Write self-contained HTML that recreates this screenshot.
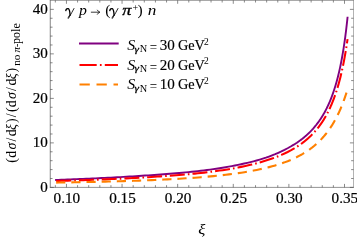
<!DOCTYPE html>
<html><head><meta charset="utf-8"><style>
html,body{margin:0;padding:0;background:#fff;}
body{width:357px;height:240px;overflow:hidden;}
svg{display:block;will-change:transform;}
text{font-family:"Liberation Serif",serif;fill:#000;}
.i{font-style:italic;}
</style></head><body>
<svg width="357" height="240" viewBox="0 0 357 240">
<rect width="357" height="240" fill="#fff"/>
<g fill="none" stroke-linejoin="round">
<path d="M55.10,180.02 L58.20,179.90 L61.30,179.78 L64.40,179.66 L67.50,179.54 L70.60,179.41 L73.70,179.29 L76.80,179.16 L79.90,179.03 L83.00,178.90 L86.10,178.76 L89.20,178.62 L92.30,178.48 L95.40,178.34 L98.50,178.19 L101.60,178.04 L104.70,177.89 L107.80,177.74 L110.90,177.58 L114.00,177.41 L117.10,177.25 L120.20,177.08 L123.30,176.90 L126.40,176.72 L129.50,176.54 L132.60,176.35 L135.70,176.16 L138.80,175.97 L141.90,175.77 L145.00,175.56 L148.10,175.36 L151.20,175.14 L154.30,174.93 L157.40,174.70 L160.50,174.48 L163.60,174.24 L166.70,174.00 L169.80,173.76 L172.90,173.51 L176.00,173.25 L179.10,172.98 L182.20,172.70 L185.30,172.42 L188.40,172.12 L191.50,171.81 L194.60,171.48 L197.70,171.14 L200.80,170.78 L203.90,170.41 L207.00,170.02 L210.10,169.60 L213.20,169.17 L216.30,168.71 L219.40,168.23 L222.50,167.73 L225.60,167.20 L228.70,166.65 L231.80,166.07 L234.90,165.47 L238.00,164.85 L241.10,164.20 L244.20,163.53 L247.30,162.83 L250.40,162.10 L253.50,161.33 L256.60,160.51 L259.70,159.62 L262.80,158.67 L265.90,157.65 L269.00,156.54 L272.10,155.36 L275.20,154.11 L278.30,152.77 L281.40,151.36 L284.50,149.85 L287.60,148.25 L290.70,146.53 L293.80,144.69 L296.90,142.69 L300.00,140.51 L300.40,140.22 L300.80,139.92 L301.20,139.62 L301.60,139.31 L302.00,139.01 L302.40,138.69 L302.80,138.38 L303.20,138.06 L303.60,137.73 L304.00,137.40 L304.40,137.07 L304.80,136.74 L305.20,136.40 L305.60,136.05 L306.00,135.70 L306.40,135.35 L306.80,134.99 L307.20,134.63 L307.60,134.26 L308.00,133.89 L308.40,133.51 L308.80,133.13 L309.20,132.74 L309.60,132.34 L310.00,131.95 L310.40,131.54 L310.80,131.13 L311.20,130.72 L311.60,130.29 L312.00,129.87 L312.40,129.43 L312.80,128.99 L313.20,128.55 L313.60,128.09 L314.00,127.63 L314.40,127.17 L314.80,126.69 L315.20,126.21 L315.60,125.72 L316.00,125.23 L316.40,124.72 L316.80,124.21 L317.20,123.69 L317.60,123.16 L318.00,122.63 L318.40,122.08 L318.80,121.52 L319.20,120.96 L319.60,120.39 L320.00,119.80 L320.40,119.21 L320.80,118.61 L321.20,117.99 L321.60,117.37 L322.00,116.73 L322.40,116.08 L322.80,115.42 L323.20,114.75 L323.60,114.07 L324.00,113.37 L324.40,112.66 L324.80,111.93 L325.20,111.20 L325.60,110.44 L326.00,109.68 L326.40,108.89 L326.80,108.09 L327.20,107.28 L327.60,106.45 L328.00,105.60 L328.40,104.73 L328.80,103.85 L329.20,102.94 L329.60,102.02 L330.00,101.07 L330.40,100.10 L330.80,99.11 L331.20,98.10 L331.60,97.07 L332.00,96.01 L332.40,94.92 L332.80,93.81 L333.20,92.67 L333.60,91.51 L334.00,90.31 L334.40,89.08 L334.80,87.82 L335.20,86.53 L335.60,85.20 L336.00,83.84 L336.40,82.44 L336.80,81.00 L337.20,79.52 L337.60,77.99 L338.00,76.42 L338.40,74.81 L338.80,73.14 L339.20,71.43 L339.60,69.66 L340.00,67.83 L340.40,65.94 L340.80,63.99 L341.20,61.97 L341.60,59.89 L342.00,57.73 L342.40,55.49 L342.80,53.18 L343.20,50.77 L343.60,48.28 L344.00,45.68 L344.40,42.99 L344.80,40.18 L345.20,37.26 L345.60,34.21 L346.00,31.03 L346.40,27.70 L346.80,24.23 L347.20,20.59 L347.60,16.77" stroke="#800080" stroke-width="1.9"/>
<path d="M55.40,181.01 L58.50,180.93 L61.59,180.84 L64.69,180.75 L67.78,180.66 L70.88,180.57 L73.98,180.47 L77.07,180.38 L80.17,180.27 L83.27,180.17 L86.36,180.06 L89.46,179.95 L92.55,179.84 L95.65,179.73 L98.75,179.61 L101.84,179.48 L104.94,179.36 L108.04,179.23 L111.13,179.10 L114.23,178.96 L117.32,178.82 L120.42,178.68 L123.52,178.53 L126.61,178.38 L129.71,178.22 L132.81,178.06 L135.90,177.89 L139.00,177.72 L142.09,177.55 L145.19,177.37 L148.29,177.18 L151.38,176.99 L154.48,176.80 L157.57,176.60 L160.67,176.39 L163.77,176.18 L166.86,175.96 L169.96,175.73 L173.06,175.50 L176.15,175.26 L179.25,175.01 L182.34,174.75 L185.44,174.48 L188.54,174.20 L191.63,173.91 L194.73,173.61 L197.83,173.29 L200.92,172.96 L204.02,172.61 L207.11,172.25 L210.21,171.87 L213.31,171.47 L216.40,171.05 L219.50,170.61 L222.59,170.15 L225.69,169.67 L228.79,169.16 L231.88,168.63 L234.98,168.07 L238.08,167.48 L241.17,166.87 L244.27,166.22 L247.36,165.54 L250.46,164.82 L253.56,164.07 L256.65,163.27 L259.75,162.43 L262.85,161.54 L265.94,160.60 L269.04,159.60 L272.13,158.53 L275.23,157.40 L278.33,156.19 L281.42,154.90 L284.52,153.51 L287.62,152.02 L290.71,150.41 L293.81,148.67 L296.90,146.78 L300.00,144.72 L300.40,144.44 L300.80,144.15 L301.20,143.87 L301.60,143.58 L302.00,143.29 L302.40,142.99 L302.80,142.69 L303.20,142.39 L303.60,142.08 L304.00,141.77 L304.40,141.45 L304.79,141.13 L305.19,140.81 L305.59,140.48 L305.99,140.15 L306.39,139.82 L306.79,139.48 L307.19,139.13 L307.59,138.78 L307.99,138.43 L308.39,138.07 L308.79,137.71 L309.19,137.34 L309.59,136.97 L309.99,136.60 L310.39,136.21 L310.79,135.83 L311.19,135.43 L311.59,135.04 L311.99,134.63 L312.39,134.22 L312.79,133.81 L313.19,133.39 L313.59,132.96 L313.99,132.52 L314.38,132.08 L314.78,131.64 L315.18,131.19 L315.58,130.73 L315.98,130.26 L316.38,129.79 L316.78,129.31 L317.18,128.82 L317.58,128.32 L317.98,127.82 L318.38,127.31 L318.78,126.79 L319.18,126.26 L319.58,125.72 L319.98,125.18 L320.38,124.63 L320.78,124.06 L321.18,123.49 L321.58,122.91 L321.98,122.32 L322.38,121.71 L322.78,121.10 L323.18,120.48 L323.58,119.85 L323.97,119.20 L324.37,118.54 L324.77,117.88 L325.17,117.20 L325.57,116.50 L325.97,115.80 L326.37,115.08 L326.77,114.35 L327.17,113.60 L327.57,112.84 L327.97,112.07 L328.37,111.28 L328.77,110.47 L329.17,109.65 L329.57,108.81 L329.97,107.95 L330.37,107.08 L330.77,106.19 L331.17,105.28 L331.57,104.35 L331.97,103.40 L332.37,102.43 L332.77,101.44 L333.17,100.43 L333.56,99.39 L333.96,98.33 L334.36,97.25 L334.76,96.14 L335.16,95.00 L335.56,93.84 L335.96,92.65 L336.36,91.44 L336.76,90.19 L337.16,88.91 L337.56,87.60 L337.96,86.25 L338.36,84.87 L338.76,83.45 L339.16,82.00 L339.56,80.51 L339.96,78.97 L340.36,77.40 L340.76,75.78 L341.16,74.11 L341.56,72.39 L341.96,70.63 L342.36,68.81 L342.76,66.94 L343.15,65.01 L343.55,63.02 L343.95,60.96 L344.35,58.84 L344.75,56.65 L345.15,54.39 L345.55,52.05 L345.95,49.64 L346.35,47.13 L346.75,44.54 L347.15,41.85 L347.55,39.06" stroke="#ff0000" stroke-width="2.05" stroke-dasharray="15 3.075 1.6 3.075" stroke-dashoffset="21.95"/>
<path d="M55.90,182.58 L58.99,182.53 L62.08,182.48 L65.17,182.44 L68.26,182.39 L71.35,182.33 L74.44,182.28 L77.53,182.22 L80.62,182.17 L83.71,182.11 L86.80,182.05 L89.89,181.98 L92.98,181.92 L96.07,181.85 L99.16,181.78 L102.25,181.71 L105.34,181.63 L108.43,181.56 L111.52,181.47 L114.61,181.39 L117.70,181.31 L120.79,181.22 L123.88,181.12 L126.97,181.03 L130.06,180.93 L133.15,180.82 L136.24,180.72 L139.33,180.61 L142.42,180.49 L145.51,180.37 L148.60,180.25 L151.69,180.12 L154.78,179.99 L157.87,179.85 L160.96,179.70 L164.05,179.56 L167.14,179.40 L170.23,179.24 L173.32,179.07 L176.41,178.89 L179.49,178.71 L182.58,178.52 L185.67,178.32 L188.76,178.12 L191.85,177.90 L194.94,177.68 L198.03,177.44 L201.12,177.20 L204.21,176.94 L207.30,176.67 L210.39,176.39 L213.48,176.10 L216.57,175.79 L219.66,175.47 L222.75,175.13 L225.84,174.77 L228.93,174.40 L232.02,174.01 L235.11,173.59 L238.20,173.16 L241.29,172.70 L244.38,172.21 L247.47,171.70 L250.56,171.16 L253.65,170.58 L256.74,169.98 L259.83,169.33 L262.92,168.64 L266.01,167.91 L269.10,167.14 L272.19,166.31 L275.28,165.42 L278.37,164.47 L281.46,163.45 L284.55,162.36 L287.64,161.18 L290.73,159.91 L293.82,158.54 L296.91,157.05 L300.00,155.43 L300.39,155.22 L300.78,155.00 L301.17,154.79 L301.56,154.56 L301.95,154.34 L302.34,154.11 L302.74,153.89 L303.13,153.65 L303.52,153.42 L303.91,153.18 L304.30,152.95 L304.69,152.70 L305.08,152.46 L305.47,152.21 L305.86,151.96 L306.25,151.71 L306.64,151.45 L307.03,151.19 L307.42,150.93 L307.82,150.67 L308.21,150.40 L308.60,150.13 L308.99,149.85 L309.38,149.57 L309.77,149.29 L310.16,149.01 L310.55,148.72 L310.94,148.43 L311.33,148.13 L311.72,147.84 L312.11,147.53 L312.50,147.23 L312.89,146.92 L313.29,146.60 L313.68,146.29 L314.07,145.96 L314.46,145.64 L314.85,145.31 L315.24,144.97 L315.63,144.63 L316.02,144.29 L316.41,143.94 L316.80,143.59 L317.19,143.24 L317.58,142.87 L317.97,142.51 L318.37,142.14 L318.76,141.76 L319.15,141.38 L319.54,140.99 L319.93,140.60 L320.32,140.21 L320.71,139.80 L321.10,139.40 L321.49,138.98 L321.88,138.56 L322.27,138.14 L322.66,137.71 L323.05,137.27 L323.45,136.83 L323.84,136.38 L324.23,135.92 L324.62,135.46 L325.01,134.99 L325.40,134.51 L325.79,134.03 L326.18,133.54 L326.57,133.04 L326.96,132.53 L327.35,132.02 L327.74,131.50 L328.13,130.97 L328.53,130.43 L328.92,129.89 L329.31,129.34 L329.70,128.77 L330.09,128.20 L330.48,127.62 L330.87,127.03 L331.26,126.43 L331.65,125.82 L332.04,125.20 L332.43,124.58 L332.82,123.94 L333.21,123.29 L333.61,122.63 L334.00,121.96 L334.39,121.27 L334.78,120.58 L335.17,119.87 L335.56,119.15 L335.95,118.42 L336.34,117.68 L336.73,116.92 L337.12,116.15 L337.51,115.37 L337.90,114.57 L338.29,113.76 L338.68,112.93 L339.08,112.09 L339.47,111.23 L339.86,110.36 L340.25,109.47 L340.64,108.56 L341.03,107.64 L341.42,106.70 L341.81,105.74 L342.20,104.76 L342.59,103.76 L342.98,102.75 L343.37,101.71 L343.76,100.65 L344.16,99.57 L344.55,98.47 L344.94,97.35 L345.33,96.20 L345.72,95.03 L346.11,93.84 L346.50,92.62" stroke="#ff8000" stroke-width="2.1" stroke-dasharray="9.2 5.965" stroke-dashoffset="-0.25"/>
</g>
<g stroke="#666" fill="none">
<line x1="50.25" y1="0" x2="50.25" y2="187.70000000000002" stroke-width="0.8"/>
<line x1="353.5" y1="0" x2="353.5" y2="187.70000000000002" stroke-width="0.5"/>
<line x1="49.900000000000006" y1="0.3" x2="353.75" y2="0.3" stroke-width="0.7"/>
<line x1="49.900000000000006" y1="187.4" x2="353.75" y2="187.4" stroke-width="0.7"/>
</g>
<g stroke="#4a4a4a" stroke-width="0.65" fill="none">
<line x1="55.33" y1="187.4" x2="55.33" y2="185.20000000000002"/><line x1="55.33" y1="0.3" x2="55.33" y2="2.5"/><line x1="66.45" y1="187.4" x2="66.45" y2="183.9"/><line x1="66.45" y1="0.3" x2="66.45" y2="3.8"/><line x1="77.57" y1="187.4" x2="77.57" y2="185.20000000000002"/><line x1="77.57" y1="0.3" x2="77.57" y2="2.5"/><line x1="88.69" y1="187.4" x2="88.69" y2="185.20000000000002"/><line x1="88.69" y1="0.3" x2="88.69" y2="2.5"/><line x1="99.82" y1="187.4" x2="99.82" y2="185.20000000000002"/><line x1="99.82" y1="0.3" x2="99.82" y2="2.5"/><line x1="110.94" y1="187.4" x2="110.94" y2="185.20000000000002"/><line x1="110.94" y1="0.3" x2="110.94" y2="2.5"/><line x1="122.06" y1="187.4" x2="122.06" y2="183.9"/><line x1="122.06" y1="0.3" x2="122.06" y2="3.8"/><line x1="133.18" y1="187.4" x2="133.18" y2="185.20000000000002"/><line x1="133.18" y1="0.3" x2="133.18" y2="2.5"/><line x1="144.30" y1="187.4" x2="144.30" y2="185.20000000000002"/><line x1="144.30" y1="0.3" x2="144.30" y2="2.5"/><line x1="155.43" y1="187.4" x2="155.43" y2="185.20000000000002"/><line x1="155.43" y1="0.3" x2="155.43" y2="2.5"/><line x1="166.55" y1="187.4" x2="166.55" y2="185.20000000000002"/><line x1="166.55" y1="0.3" x2="166.55" y2="2.5"/><line x1="177.67" y1="187.4" x2="177.67" y2="183.9"/><line x1="177.67" y1="0.3" x2="177.67" y2="3.8"/><line x1="188.79" y1="187.4" x2="188.79" y2="185.20000000000002"/><line x1="188.79" y1="0.3" x2="188.79" y2="2.5"/><line x1="199.91" y1="187.4" x2="199.91" y2="185.20000000000002"/><line x1="199.91" y1="0.3" x2="199.91" y2="2.5"/><line x1="211.04" y1="187.4" x2="211.04" y2="185.20000000000002"/><line x1="211.04" y1="0.3" x2="211.04" y2="2.5"/><line x1="222.16" y1="187.4" x2="222.16" y2="185.20000000000002"/><line x1="222.16" y1="0.3" x2="222.16" y2="2.5"/><line x1="233.28" y1="187.4" x2="233.28" y2="183.9"/><line x1="233.28" y1="0.3" x2="233.28" y2="3.8"/><line x1="244.40" y1="187.4" x2="244.40" y2="185.20000000000002"/><line x1="244.40" y1="0.3" x2="244.40" y2="2.5"/><line x1="255.52" y1="187.4" x2="255.52" y2="185.20000000000002"/><line x1="255.52" y1="0.3" x2="255.52" y2="2.5"/><line x1="266.65" y1="187.4" x2="266.65" y2="185.20000000000002"/><line x1="266.65" y1="0.3" x2="266.65" y2="2.5"/><line x1="277.77" y1="187.4" x2="277.77" y2="185.20000000000002"/><line x1="277.77" y1="0.3" x2="277.77" y2="2.5"/><line x1="288.89" y1="187.4" x2="288.89" y2="183.9"/><line x1="288.89" y1="0.3" x2="288.89" y2="3.8"/><line x1="300.01" y1="187.4" x2="300.01" y2="185.20000000000002"/><line x1="300.01" y1="0.3" x2="300.01" y2="2.5"/><line x1="311.13" y1="187.4" x2="311.13" y2="185.20000000000002"/><line x1="311.13" y1="0.3" x2="311.13" y2="2.5"/><line x1="322.26" y1="187.4" x2="322.26" y2="185.20000000000002"/><line x1="322.26" y1="0.3" x2="322.26" y2="2.5"/><line x1="333.38" y1="187.4" x2="333.38" y2="185.20000000000002"/><line x1="333.38" y1="0.3" x2="333.38" y2="2.5"/><line x1="344.50" y1="187.4" x2="344.50" y2="183.9"/><line x1="344.50" y1="0.3" x2="344.50" y2="3.8"/><line x1="50.2" y1="187.40" x2="53.800000000000004" y2="187.40"/><line x1="353.5" y1="187.40" x2="349.9" y2="187.40"/><line x1="50.2" y1="178.50" x2="52.550000000000004" y2="178.50"/><line x1="353.5" y1="178.50" x2="351.15" y2="178.50"/><line x1="50.2" y1="169.60" x2="52.550000000000004" y2="169.60"/><line x1="353.5" y1="169.60" x2="351.15" y2="169.60"/><line x1="50.2" y1="160.69" x2="52.550000000000004" y2="160.69"/><line x1="353.5" y1="160.69" x2="351.15" y2="160.69"/><line x1="50.2" y1="151.79" x2="52.550000000000004" y2="151.79"/><line x1="353.5" y1="151.79" x2="351.15" y2="151.79"/><line x1="50.2" y1="142.89" x2="53.800000000000004" y2="142.89"/><line x1="353.5" y1="142.89" x2="349.9" y2="142.89"/><line x1="50.2" y1="133.99" x2="52.550000000000004" y2="133.99"/><line x1="353.5" y1="133.99" x2="351.15" y2="133.99"/><line x1="50.2" y1="125.09" x2="52.550000000000004" y2="125.09"/><line x1="353.5" y1="125.09" x2="351.15" y2="125.09"/><line x1="50.2" y1="116.18" x2="52.550000000000004" y2="116.18"/><line x1="353.5" y1="116.18" x2="351.15" y2="116.18"/><line x1="50.2" y1="107.28" x2="52.550000000000004" y2="107.28"/><line x1="353.5" y1="107.28" x2="351.15" y2="107.28"/><line x1="50.2" y1="98.38" x2="53.800000000000004" y2="98.38"/><line x1="353.5" y1="98.38" x2="349.9" y2="98.38"/><line x1="50.2" y1="89.48" x2="52.550000000000004" y2="89.48"/><line x1="353.5" y1="89.48" x2="351.15" y2="89.48"/><line x1="50.2" y1="80.58" x2="52.550000000000004" y2="80.58"/><line x1="353.5" y1="80.58" x2="351.15" y2="80.58"/><line x1="50.2" y1="71.67" x2="52.550000000000004" y2="71.67"/><line x1="353.5" y1="71.67" x2="351.15" y2="71.67"/><line x1="50.2" y1="62.77" x2="52.550000000000004" y2="62.77"/><line x1="353.5" y1="62.77" x2="351.15" y2="62.77"/><line x1="50.2" y1="53.87" x2="53.800000000000004" y2="53.87"/><line x1="353.5" y1="53.87" x2="349.9" y2="53.87"/><line x1="50.2" y1="44.97" x2="52.550000000000004" y2="44.97"/><line x1="353.5" y1="44.97" x2="351.15" y2="44.97"/><line x1="50.2" y1="36.07" x2="52.550000000000004" y2="36.07"/><line x1="353.5" y1="36.07" x2="351.15" y2="36.07"/><line x1="50.2" y1="27.16" x2="52.550000000000004" y2="27.16"/><line x1="353.5" y1="27.16" x2="351.15" y2="27.16"/><line x1="50.2" y1="18.26" x2="52.550000000000004" y2="18.26"/><line x1="353.5" y1="18.26" x2="351.15" y2="18.26"/><line x1="50.2" y1="9.36" x2="53.800000000000004" y2="9.36"/><line x1="353.5" y1="9.36" x2="349.9" y2="9.36"/>
</g>
<g font-size="14.5" stroke="#000" stroke-width="0.2">
<text transform="translate(66.85,203.2) scale(1.05,1)" text-anchor="middle">0.10</text><text transform="translate(122.46,203.2) scale(1.05,1)" text-anchor="middle">0.15</text><text transform="translate(178.07,203.2) scale(1.05,1)" text-anchor="middle">0.20</text><text transform="translate(233.68,203.2) scale(1.05,1)" text-anchor="middle">0.25</text><text transform="translate(289.29,203.2) scale(1.05,1)" text-anchor="middle">0.30</text><text transform="translate(344.90,203.2) scale(1.05,1)" text-anchor="middle">0.35</text>
<text transform="translate(47.7,192.00) scale(1.04,1)" text-anchor="end">0</text><text transform="translate(47.7,147.49) scale(1.04,1)" text-anchor="end">10</text><text transform="translate(47.7,102.98) scale(1.04,1)" text-anchor="end">20</text><text transform="translate(47.7,58.47) scale(1.04,1)" text-anchor="end">30</text><text transform="translate(47.7,13.96) scale(1.04,1)" text-anchor="end">40</text>
</g>
<!-- title -->
<g font-size="14.6" class="i">
<g transform="translate(65.6,15.4)" fill="none" stroke="#000" stroke-linecap="round" stroke-linejoin="round" style="font-style:normal"><path d="M0.2,-4.9 C0.6,-6.4 1.7,-7.1 2.7,-6.7 C3.9,-6.2 4.3,-3.4 4.5,-0.3" stroke-width="1.35"/><path d="M8.4,-6.9 C7.2,-4.4 5.4,-1.6 4.2,0.6 C3.5,1.9 2.9,3.1 2.6,3.1 C2.3,3.1 2.6,1.8 3.4,0.6 C4.0,-0.3 4.4,-0.6 4.5,-0.3" stroke-width="0.85"/></g>
<text transform="translate(79.0,15.4) scale(1.08,1)">p</text>
<path d="M90.9,12.2 H99.4 M97.2,9.8 Q98,11.6 100,12.2 Q98,12.8 97.2,14.6" fill="none" stroke="#222" stroke-width="0.9"/>
<text x="105.2" y="15.2" style="font-style:normal" font-size="15.5">(</text>
<g transform="translate(109.6,15.4)" fill="none" stroke="#000" stroke-linecap="round" stroke-linejoin="round" style="font-style:normal"><path d="M0.2,-4.9 C0.6,-6.4 1.7,-7.1 2.7,-6.7 C3.9,-6.2 4.3,-3.4 4.5,-0.3" stroke-width="1.35"/><path d="M8.4,-6.9 C7.2,-4.4 5.4,-1.6 4.2,0.6 C3.5,1.9 2.9,3.1 2.6,3.1 C2.3,3.1 2.6,1.8 3.4,0.6 C4.0,-0.3 4.4,-0.6 4.5,-0.3" stroke-width="0.85"/></g>
<text transform="translate(122.2,15.4) scale(1.25,1)" stroke="#000" stroke-width="0.3">π</text>
<text x="132.4" y="11.3" style="font-style:normal" font-size="10">+</text>
<text x="137.4" y="15.2" style="font-style:normal" font-size="15.5">)</text>
<text transform="translate(147.7,15.4) scale(1.18,1)">n</text>
</g>
<!-- legend -->
<g fill="none" stroke-width="2">
<line x1="79" y1="43.5" x2="118.7" y2="43.5" stroke="#800080"/>
<line x1="79.5" y1="65" x2="118" y2="65" stroke="#ff0000" stroke-dasharray="17.2 3.2 1.7 3.2"/>
<line x1="79.5" y1="84.6" x2="118" y2="84.6" stroke="#ff8000" stroke-dasharray="10.3 6.7"/>
</g>
<g font-size="14.5">
<text transform="translate(127.3,50.1) scale(1.06,1)" class="i" font-size="15">S</text>
<text transform="translate(134.5,51.800000000000004) scale(1.25,1)" class="i" font-size="9" stroke="#000" stroke-width="0.25">γ</text>
<text x="139.8" y="52.4" font-size="10.3">N</text>
<text transform="translate(149.7,52.2) scale(0.9,1)">=</text>
<text transform="translate(159.7,50.1) scale(1.04,1)" stroke="#000" stroke-width="0.15">30</text>
<text transform="translate(177.9,50.1) scale(0.985,1)" stroke="#000" stroke-width="0.15">GeV</text>
<text x="203.9" y="44.800000000000004" font-size="9.5">2</text>
</g><g font-size="14.5">
<text transform="translate(127.3,69.7) scale(1.06,1)" class="i" font-size="15">S</text>
<text transform="translate(134.5,71.4) scale(1.25,1)" class="i" font-size="9" stroke="#000" stroke-width="0.25">γ</text>
<text x="139.8" y="72.0" font-size="10.3">N</text>
<text transform="translate(149.7,71.8) scale(0.9,1)">=</text>
<text transform="translate(159.7,69.7) scale(1.04,1)" stroke="#000" stroke-width="0.15">20</text>
<text transform="translate(177.9,69.7) scale(0.985,1)" stroke="#000" stroke-width="0.15">GeV</text>
<text x="203.9" y="64.4" font-size="9.5">2</text>
</g><g font-size="14.5">
<text transform="translate(127.3,89.2) scale(1.06,1)" class="i" font-size="15">S</text>
<text transform="translate(134.5,90.9) scale(1.25,1)" class="i" font-size="9" stroke="#000" stroke-width="0.25">γ</text>
<text x="139.8" y="91.5" font-size="10.3">N</text>
<text transform="translate(149.7,91.3) scale(0.9,1)">=</text>
<text transform="translate(159.7,89.2) scale(1.04,1)" stroke="#000" stroke-width="0.15">10</text>
<text transform="translate(177.9,89.2) scale(0.985,1)" stroke="#000" stroke-width="0.15">GeV</text>
<text x="203.9" y="83.9" font-size="9.5">2</text>
</g>
<!-- x label -->
<text transform="translate(201.8,233.7) scale(1.12,1)" class="i" font-size="14.8" text-anchor="middle">ξ</text>
<!-- y label -->
<g transform="translate(15.8,162.2) rotate(-90)" font-size="13.8">
<text y="0" x="-0.46 4.33 12.6 20.6 26.0 32.3 39.1 45.0 50.24 55.03 63.3 71.3 76.7 83.0 89.8">(d<tspan class="i">σ</tspan>/d<tspan class="i">ξ</tspan>)/(d<tspan class="i">σ</tspan>/d<tspan class="i">ξ</tspan>)</text>
<text x="96.4" y="4.6" font-size="11.3">no</text>
<text x="109.6" y="4.6" font-size="11" class="i">π</text>
<text x="115.1" y="4.6" font-size="10">-</text>
<text x="118.3" y="4.4" font-size="12">pole</text>
</g>
</svg>
</body></html>
